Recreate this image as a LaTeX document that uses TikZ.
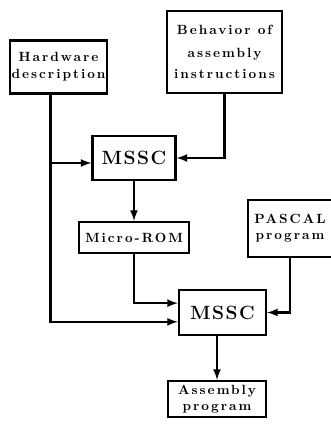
\documentclass[tikz,border=0pt]{standalone}
\usepackage{fontspec}
\newfontfamily\boxfont{Latin Modern Roman}[LetterSpace=15]
\newfontfamily\toolfont{Latin Modern Roman}[LetterSpace=8]
\tikzset{
  >=latex,
  blk/.style={draw, line width=1.8pt, align=center, inner sep=0pt,
              font=\boxfont\normalsize\bfseries},
  tool/.style={blk, font=\toolfont\Large\bfseries},
  flow/.style={->, line width=1.7pt},
}

\begin{document}
\begin{tikzpicture}[x=0.75pt, y=-0.75pt]
    \useasboundingbox (0,0) rectangle (330,427);
    \node[blk, minimum width=72.75pt, minimum height=39.75pt] (hw) at (58.5, 67) {Hardware\\[1pt]description};
    \node[blk, minimum width=86.25pt, minimum height=61.5pt] (beh) at (224.5, 52) {Behavior of\\[5pt]assembly\\[4pt]instructions};
    \node[tool, minimum width=62.25pt, minimum height=33pt] (mssc1) at (134, 158) {MSSC};
    \node[blk, minimum width=82.5pt, minimum height=23.25pt] (rom) at (134, 237.5) {Micro-ROM};
    \node[blk, minimum width=63pt, minimum height=42.75pt] (pas) at (290, 228.5) {PASCAL\\program};
    \node[tool, minimum width=65.25pt, minimum height=33.75pt] (mssc2) at (222.5, 312.5) {MSSC};
    \node[blk, minimum width=73.5pt, minimum height=27pt] (asm) at (217, 399) {Assembly\\program};
    % connectors
    \draw[flow] ([xshift=-6pt]hw.south) |- ([yshift=-3.75pt]mssc1.west);
    \draw[flow] ([xshift=-6pt]hw.south) |- ([yshift=-7pt]mssc2.west);
    \draw[flow] (beh.south) |- (mssc1.east);
    \draw[flow] (mssc1.south) -- (rom.north);
    \draw[flow] (rom.south) |- ([yshift=7pt]mssc2.west);
    \draw[flow] (pas.south) |- (mssc2.east);
    \draw[flow] (mssc2.south -| asm.north) -- (asm.north);
  \end{tikzpicture}
\end{document}
